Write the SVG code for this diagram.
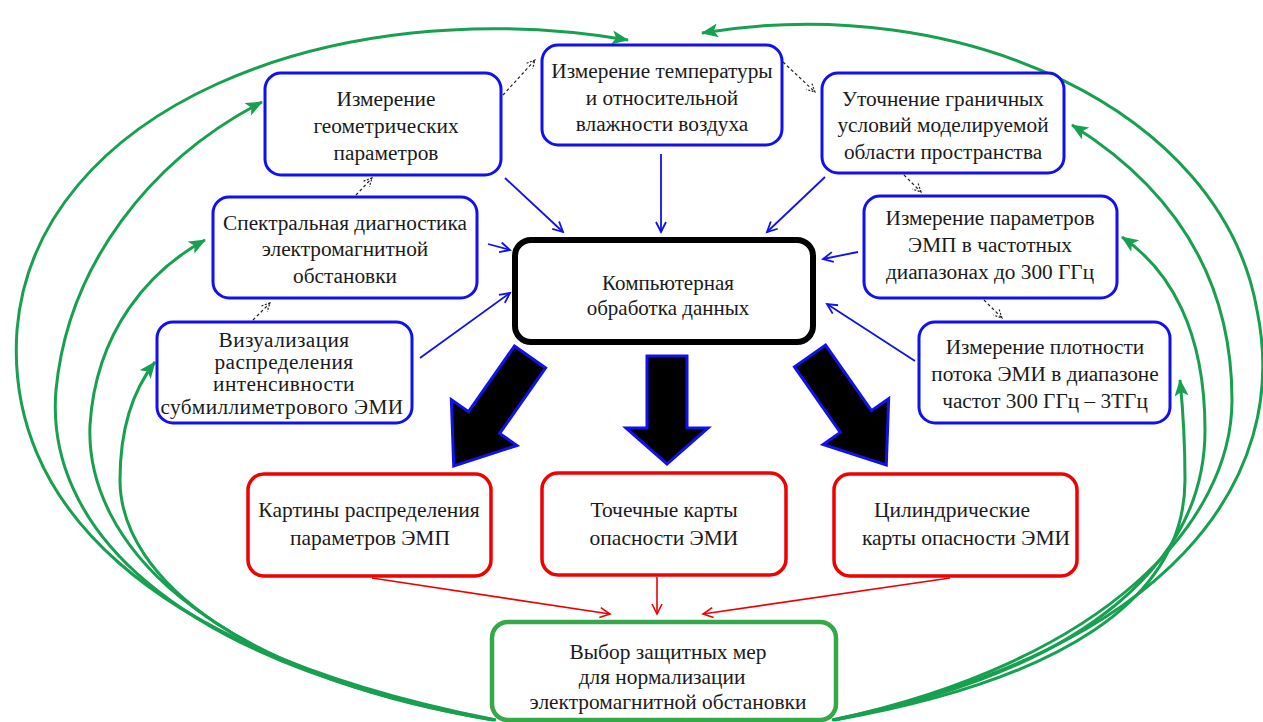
<svg xmlns="http://www.w3.org/2000/svg" width="1263" height="722" viewBox="0 0 1263 722">
<style>
text{font-family:'Liberation Serif','DejaVu Serif','Times New Roman',serif;font-size:21.3px;fill:#1a1a1a;text-anchor:middle}
.c{font-size:21px}
.v{font-size:21.3px;letter-spacing:0.4px}
.r{font-size:21.5px}
.g{font-size:21.4px}
.bb{fill:#fff;stroke:#1010f0;stroke-width:3}
.rb{fill:#fff;stroke:#f00000;stroke-width:3.5}
.gb{fill:#fff;stroke:#35a84a;stroke-width:4.5}
.cb{fill:#fff;stroke:#000;stroke-width:6}
.bl{stroke:#1010f0;stroke-width:1.8;fill:none;marker-end:url(#mb)}
.dl{stroke:#222;stroke-width:1.2;stroke-dasharray:3 2.5;fill:none;marker-end:url(#md)}
.rl{stroke:#f00000;stroke-width:1.6;fill:none;marker-end:url(#mr)}
.gl{stroke:#17a050;stroke-width:3;fill:none;marker-end:url(#mg)}
.big{fill:#000;stroke:#1010f0;stroke-width:3;stroke-linejoin:miter}
</style>
<defs>
<marker id="mb" markerUnits="userSpaceOnUse" markerWidth="14" markerHeight="14" refX="11" refY="6" orient="auto"><path d="M1,1 L11,6 L1,11" fill="none" stroke="#1010f0" stroke-width="1.8"/></marker>
<marker id="md" markerUnits="userSpaceOnUse" markerWidth="12" markerHeight="12" refX="9" refY="5" orient="auto"><path d="M1,1 L9,5 L1,9" fill="none" stroke="#222" stroke-width="1.2" stroke-dasharray="2 1.5"/></marker>
<marker id="mr" markerUnits="userSpaceOnUse" markerWidth="14" markerHeight="14" refX="11" refY="6" orient="auto"><path d="M1,1 L11,6 L1,11" fill="none" stroke="#f00000" stroke-width="1.6"/></marker>
<marker id="mg" markerUnits="userSpaceOnUse" markerWidth="20" markerHeight="16" refX="16" refY="7" orient="auto"><path d="M0,0 L17,7 L0,14 L4,7 Z" fill="#17a050"/></marker>
</defs>

<g id="connectors">
<path class="gl" d="M496 720 C140 650 5 500 17 330 C35 110 330 -10 628 40"/>
<path class="gl" d="M495 720 C160 660 45 520 56 390 C68 265 150 160 262 102"/>
<path class="gl" d="M494 720 C200 670 85 540 90 425 C96 330 150 270 205 240"/>
<path class="gl" d="M493 720 C250 680 120 580 120 480 C120 430 133 390 155 362"/>
<path class="gl" d="M832 720 C1170 650 1292 480 1257 310 C1222 110 960 -10 702 33"/>
<path class="gl" d="M833 720 C1110 660 1232 520 1232 400 C1232 265 1160 180 1072 125"/>
<path class="gl" d="M834 720 C1090 670 1205 560 1205 430 C1205 330 1170 270 1122 237"/>
<path class="gl" d="M835 720 C1060 680 1185 600 1185 480 C1185 440 1183 410 1180 380"/>

<line class="bl" x1="505" y1="178" x2="563" y2="232"/>
<line class="bl" x1="661" y1="154" x2="661" y2="232"/>
<line class="bl" x1="825" y1="177" x2="767" y2="232"/>
<line class="bl" x1="488" y1="244" x2="510" y2="250"/>
<line class="bl" x1="420" y1="358" x2="510" y2="293"/>
<line class="bl" x1="858" y1="252" x2="823" y2="259"/>
<line class="bl" x1="915" y1="361" x2="827" y2="304"/>

<line class="dl" x1="503" y1="95" x2="535" y2="60"/>
<line class="dl" x1="783" y1="62" x2="815" y2="92"/>
<line class="dl" x1="356" y1="195" x2="372" y2="178"/>
<line class="dl" x1="253" y1="320" x2="270" y2="303"/>
<line class="dl" x1="904" y1="175" x2="921" y2="192"/>
<line class="dl" x1="984" y1="300" x2="1002" y2="318"/>

<line class="rl" x1="372" y1="578" x2="610" y2="614"/>
<line class="rl" x1="657" y1="577" x2="657" y2="614"/>
<line class="rl" x1="950" y1="578" x2="703" y2="614"/>

<polygon class="big" transform="translate(530,357) rotate(35)" points="-19,0 19,0 19,80 40,80 0,133 -40,80 -19,80"/>
<polygon class="big" points="647,356 687,356 687,428 708,428 667,464 626,428 647,428"/>
<polygon class="big" transform="translate(810,356) rotate(-35)" points="-19,0 19,0 19,80 40,80 0,133 -40,80 -19,80"/>
</g>

<g id="n-geom"><rect class="bb" x="265" y="73" width="236" height="102" rx="16"/>
<text x="386" y="106">Измерение</text><text x="386" y="133">геометрических</text><text x="386" y="160">параметров</text></g>

<g id="n-temp"><rect class="bb" x="542" y="45" width="240" height="100" rx="16"/>
<text x="662" y="78">Измерение температуры</text><text x="662" y="105">и относительной</text><text x="662" y="131">влажности воздуха</text></g>

<g id="n-bound"><rect class="bb" x="822" y="73" width="242" height="100" rx="16"/>
<text x="943" y="106">Уточнение граничных</text><text x="943" y="132">условий моделируемой</text><text x="943" y="159">области пространства</text></g>

<g id="n-spec"><rect class="bb" x="213" y="197" width="264" height="101" rx="16"/>
<text x="345" y="230">Спектральная диагностика</text><text x="345" y="256">электромагнитной</text><text x="345" y="283">обстановки</text></g>

<g id="n-vis"><rect class="bb" x="157" y="322" width="255" height="101" rx="16"/>
<text class="v" x="284" y="347">Визуализация</text><text class="v" x="284" y="369">распределения</text><text class="v" x="284" y="391">интенсивности</text><text class="v" x="282" y="414">субмиллиметрового ЭМИ</text></g>

<g id="n-emp"><rect class="bb" x="864" y="196" width="253" height="102" rx="16"/>
<text x="990" y="225">Измерение параметров</text><text x="990" y="252">ЭМП в частотных</text><text x="990" y="279">диапазонах до 300 ГГц</text></g>

<g id="n-flux"><rect class="bb" x="919" y="322" width="251" height="101" rx="16"/>
<text x="1045" y="354">Измерение плотности</text><text x="1045" y="381">потока ЭМИ в диапазоне</text><text x="1045" y="408">частот 300 ГГц – 3ТГц</text></g>

<g id="n-comp"><rect class="cb" x="515" y="240" width="298" height="102" rx="16"/>
<text class="c" x="668" y="290">Компьютерная</text><text class="c" x="668" y="315">обработка данных</text></g>

<g id="n-pic"><rect class="rb" x="248" y="474" width="243" height="102" rx="16"/>
<text class="r" x="369" y="517">Картины распределения</text><text class="r" x="370" y="545">параметров ЭМП</text></g>

<g id="n-point"><rect class="rb" x="542" y="473" width="244" height="102" rx="16"/>
<text class="r" x="664" y="517">Точечные карты</text><text class="r" x="664" y="545">опасности ЭМИ</text></g>

<g id="n-cyl"><rect class="rb" x="834" y="474" width="243" height="102" rx="16"/>
<text class="r" x="952" y="517">Цилиндрические</text><text class="r" x="966" y="545">карты опасности ЭМИ</text></g>

<g id="n-choice"><rect class="gb" x="492" y="622" width="344" height="98" rx="16"/>
<text class="g" x="668" y="659">Выбор защитных мер</text><text class="g" x="662" y="684">для нормализации</text><text class="g" x="668" y="709">электромагнитной обстановки</text></g>
</svg>
